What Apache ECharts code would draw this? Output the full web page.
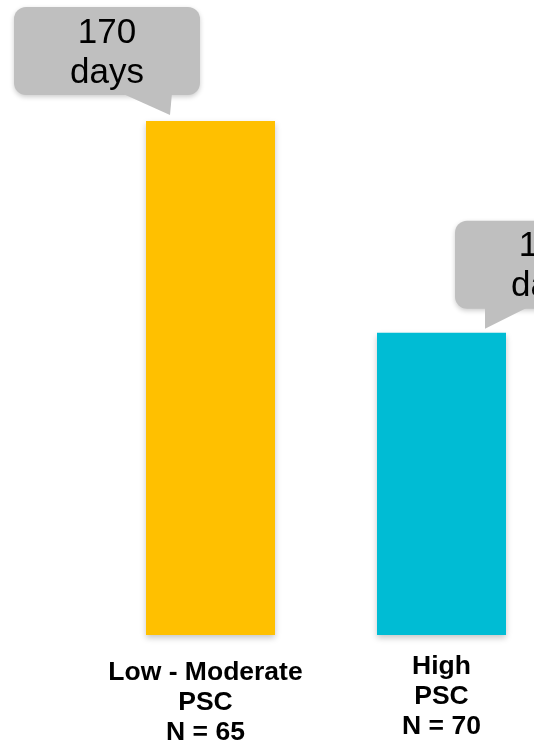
<!DOCTYPE html>
<html>
<head>
<meta charset="utf-8">
<script src="https://cdn.jsdelivr.net/npm/echarts@6/dist/echarts.min.js"></script>
<style>html,body{margin:0;padding:0;background:#fff}#c{width:534px;height:748px}</style>
</head>
<body>
<div id="c"></div>
<script>
var categories = ['Low - Moderate\nPSC\nN = 65', 'High\nPSC\nN = 70'];
var values = [170, 100];
var calloutTexts = ['170\ndays', '100\ndays'];
var barColors = ['#FFC000', '#00BCD4'];

// callout geometry relative to bar top-centre (styling only)
var callouts = [
  {dx: -196.5, dy: -114, tail: [[107, 86], [158, 86], [156, 108]]},
  {dx: 13.5, dy: -112, tail: [[30, 86], [74, 86], [30, 108]]}
];
var BW = 186, BH = 88, R = 12;

var chart = echarts.init(document.getElementById('c'));
var font = "'Liberation Sans', Arial, sans-serif";
chart.setOption({
  animation: false,
  grid: {left: 210.5, right: 92.5, top: 121, bottom: 112},
  xAxis: {
    type: 'category', boundaryGap: false,
    data: categories.map(function (c, i) {
      return i === 0 ? {value: c, textStyle: {padding: [6, 10, 0, 0]}} : {value: c};
    }),
    axisLine: {show: false}, axisTick: {show: false}, splitLine: {show: false},
    axisLabel: {
      interval: 0, margin: 17, color: '#000', fontSize: 26.5, fontWeight: 'bold',
      lineHeight: 30, fontFamily: font
    }
  },
  yAxis: {type: 'value', min: 0, max: 170, show: false, splitLine: {show: false}},
  series: [{
    type: 'bar', barWidth: 129, clip: false,
    data: values.map(function (v, i) {
      return {value: v, itemStyle: {color: barColors[i]}};
    }),
    itemStyle: {shadowBlur: 6, shadowOffsetY: 3, shadowColor: 'rgba(0,0,0,0.22)'}
  }]
});

var graphics = values.map(function (v, i) {
  var p = chart.convertToPixel({seriesIndex: 0}, [i, v]);
  var c = callouts[i];
  return {
    type: 'group', x: p[0] + c.dx, y: p[1] + c.dy,
    children: [
      {type: 'rect', shape: {x: 0, y: 0, width: BW, height: BH, r: R},
       style: {fill: '#BFBFBF', shadowBlur: 5, shadowOffsetY: 2, shadowColor: 'rgba(0,0,0,0.2)'}},
      {type: 'polygon', shape: {points: c.tail},
       style: {fill: '#BFBFBF'}},
      {type: 'text', x: BW / 2, y: BH / 2 + 2,
       style: {text: calloutTexts[i], fill: '#000', font: '35px ' + font,
               align: 'center', verticalAlign: 'middle', lineHeight: 40}}
    ]
  };
});
chart.setOption({graphic: graphics});
</script>
</body>
</html>
